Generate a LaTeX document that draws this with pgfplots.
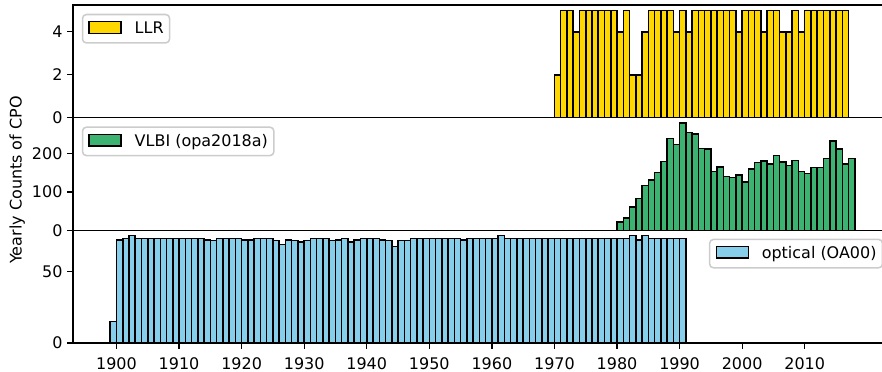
\documentclass[border=0pt]{standalone}
\usepackage{fontspec}
\setmainfont{DejaVu Sans}
\usepackage{pgfplots}
\pgfplotsset{compat=1.18}
\definecolor{llr}{HTML}{FFD700}
\definecolor{vlbi}{HTML}{3CB371}
\definecolor{opt}{HTML}{87CEEB}
\newcommand\fs{\fontsize{11.5}{13.8}\selectfont}

\pgfplotsset{
  panel/.style={
    scale only axis, width=589.68pt, height=81.12pt,
    xmin=1893.05, xmax=2023.95, ymin=0,
    anchor=south west,
    axis line style={line width=0.92pt},
    tick align=outside, tick pos=left,
    major tick length=4pt,
    every tick/.style={black, line width=0.92pt},
    /pgf/number format/assume math mode=true,
    /pgf/number format/1000 sep={},
    ticklabel style={font=\fs},
    yticklabel style={inner xsep=3.4pt},
    ybar, bar width=1, bar shift=0pt,
    x filter/.expression={x+0.5},
    legend style={draw=black!20, rounded corners=2.8pt, fill=white, fill opacity=0.8,
      text opacity=1, line width=1.1pt, inner xsep=4.3pt, inner ysep=4.6pt,
      font=\fs,
      nodes={inner sep=0pt, text height=8.4pt, text depth=2.3pt},
      column sep=9.2pt},
    legend cell align=left,
    legend image code/.code={\draw[##1, sharp corners, opacity=1, fill opacity=1, draw opacity=1, line width=1.1pt] (0pt,-3.05pt) rectangle (23pt,5.35pt);},
  },
  bars/.style={draw=black, line width=1.1pt, fill=#1},
}

\begin{document}
\begin{tikzpicture}
\path[use as bounding box] (0pt,0pt) rectangle (635.04pt,267.84pt);

% ---------- bottom: optical ----------
\begin{axis}[panel, at={(52.56pt,20.88pt)}, ymax=78.75, ytick={0,50},
  xtick={1900,1910,...,2010},
  xticklabel style={inner ysep=4.6pt, yshift=-1.8pt},
  legend style={at={(1,1)}, anchor=north east, xshift=-6.3pt, yshift=-6pt}]
\addplot[bars=opt] coordinates {
(1899,15) (1900,72) (1901,73) (1902,75) (1903,73) (1904,73) (1905,73) (1906,73)
(1907,73) (1908,73) (1909,73) (1910,73) (1911,73) (1912,73) (1913,73) (1914,72)
(1915,71.5) (1916,73) (1917,73) (1918,73) (1919,73) (1920,72) (1921,72) (1922,73)
(1923,73) (1924,73) (1925,71.5) (1926,69) (1927,72) (1928,71.5) (1929,70.5) (1930,71.5)
(1931,73) (1932,73) (1933,73) (1934,71.5) (1935,72) (1936,73) (1937,70.5) (1938,72)
(1939,73) (1940,73) (1941,73) (1942,72) (1943,71.5) (1944,67.5) (1945,71.5) (1946,71.5)
(1947,73) (1948,73) (1949,73) (1950,73) (1951,73) (1952,73) (1953,73) (1954,73)
(1955,72) (1956,73) (1957,73) (1958,73) (1959,73) (1960,73) (1961,75) (1962,73)
(1963,73) (1964,73) (1965,73) (1966,73) (1967,73) (1968,73) (1969,73) (1970,73)
(1971,73) (1972,73) (1973,73) (1974,73) (1975,73) (1976,73) (1977,73) (1978,73)
(1979,73) (1980,73) (1981,73) (1982,75) (1983,72) (1984,75) (1985,73) (1986,73)
(1987,73) (1988,73) (1989,73) (1990,73)
};
\addlegendentry{optical (OA00)}
\end{axis}

% ---------- middle: VLBI ----------
\begin{axis}[panel, at={(52.56pt,102pt)}, ymax=293, ytick={0,100,200}, xtick=\empty,
  ylabel={Yearly Counts of CPO},
  every axis y label/.style={at={(axis description cs:-0.068,0.447)}, rotate=90, anchor=center,
    font=\fs},
  legend style={at={(0,1)}, anchor=north west, xshift=6.3pt, yshift=-6.3pt}]
\addplot[bars=vlbi] coordinates {
(1979,0) (1980,21) (1981,32) (1982,60) (1983,83) (1984,117) (1985,131) (1986,151)
(1987,179) (1988,239) (1989,223) (1990,279) (1991,254) (1992,251) (1993,213) (1994,212)
(1995,153) (1996,165) (1997,140) (1998,138) (1999,144) (2000,126) (2001,160) (2002,177)
(2003,180) (2004,173) (2005,194) (2006,178) (2007,169) (2008,181) (2009,153) (2010,148)
(2011,164) (2012,164) (2013,187) (2014,233) (2015,211) (2016,172) (2017,187)
};
\addlegendentry{VLBI (opa2018a)}
\end{axis}

% ---------- top: LLR ----------
\begin{axis}[panel, at={(52.56pt,183.12pt)}, ymax=5.25, ytick={0,2,4}, xtick=\empty,
  legend style={at={(0,1)}, anchor=north west, xshift=6.3pt, yshift=-6.3pt}]
\addplot[bars=llr] coordinates {
(1965,0) (1966,0) (1967,0) (1968,0) (1969,0) (1970,2) (1971,5) (1972,5)
(1973,4) (1974,5) (1975,5) (1976,5) (1977,5) (1978,5) (1979,5) (1980,4)
(1981,5) (1982,2) (1983,2) (1984,4) (1985,5) (1986,5) (1987,5) (1988,5)
(1989,4) (1990,5) (1991,4) (1992,5) (1993,5) (1994,5) (1995,5) (1996,5)
(1997,5) (1998,5) (1999,4) (2000,5) (2001,5) (2002,5) (2003,4) (2004,5)
(2005,5) (2006,4) (2007,4) (2008,5) (2009,4) (2010,5) (2011,5) (2012,5)
(2013,5) (2014,5) (2015,5) (2016,5)
};
\addlegendentry{LLR}
\end{axis}
\end{tikzpicture}
\end{document}
